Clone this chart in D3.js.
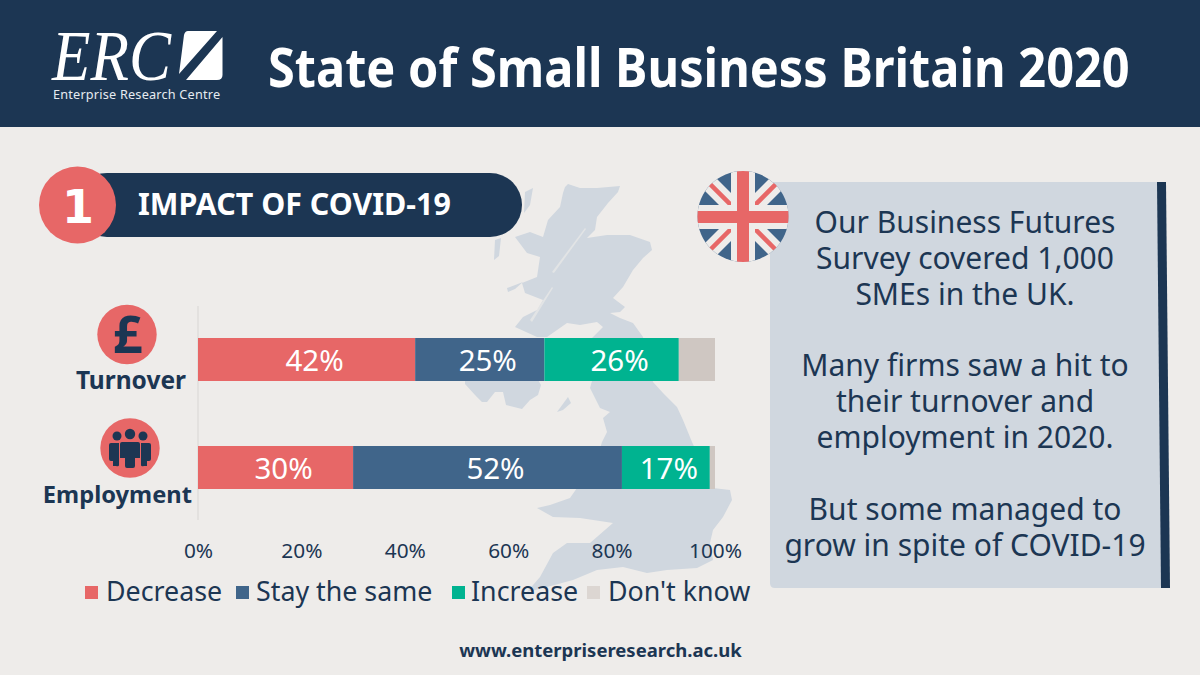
<!DOCTYPE html>
<html><head><meta charset="utf-8">
<script src="https://cdnjs.cloudflare.com/ajax/libs/d3/7.8.5/d3.min.js"></script>
<style>html,body{margin:0;padding:0;background:#eeecea}svg{display:block}text{font-family:"Noto Sans",sans-serif}</style>
</head><body><svg id="c" width="1200" height="675"></svg>
<script>
const categories = ["Turnover", "Employment"];
const seriesNames = ["Decrease", "Stay the same", "Increase", "Don't know"];
const decrease = [42, 30];
const stayTheSame = [25, 52];
const increase = [26, 17];
const dontKnow = [7, 1];
const barLabels = [["42%","25%","26%",""],["30%","52%","17%",""]];
const xTicks = [0, 20, 40, 60, 80, 100];
const panelLines = ["Our Business Futures","Survey covered 1,000","SMEs in the UK.","","Many firms saw a hit to","their turnover and","employment in 2020.","","But some managed to","grow in spite of COVID-19"];

const navy="#1c3653", red="#e76767", blue="#40658a", green="#00b390", taupe="#cfc7c2", bg="#eeecea", pale="#d0d7df";
const colors=[red,blue,green,taupe];
const svg=d3.select("#c");
svg.append("rect").attr("width",1200).attr("height",675).attr("fill",bg);

// squeeze a text horizontally to a target width
function fitWidth(sel,left,baseline,width){
  const w=sel.node().getComputedTextLength();
  sel.attr("transform",`translate(${left},${baseline}) scale(${width/w},1)`);
  return sel;
}

// header
svg.append("rect").attr("width",1200).attr("height",127).attr("fill",navy);
fitWidth(svg.append("text").attr("fill","#fff").attr("font-size",54).attr("font-weight",700).text("State of Small Business Britain 2020"),268,87,862);
fitWidth(svg.append("text").attr("fill","#fff").attr("font-size",71).style("font-family","'Liberation Serif'").attr("font-style","italic").text("ERC"),52,80,119);
svg.append("path").attr("fill","#fff").attr("d","M188 31H217L179 74L184 35Q185 31 188 31Z M222.5 37V75Q222.5 80 217 80H186Z");
svg.append("text").attr("x",53).attr("y",99).attr("fill","#e6ebf0").attr("font-size",12.7).attr("letter-spacing",.2).text("Enterprise Research Centre");

// UK map (decorative background)
const map=svg.append("g").attr("fill",pale);
map.append("path").attr("d","M565 187L568 184L580 188L597 188L620 186L618 192L608 203L597 217L595 230L587 238L607 235L630 235L650 242L652 250L643 258L633 270L623 287L613 298L625 307L620 312L610 313L620 318L633 323L643 337L648 360L653 382L663 393L677 407L683 420L692 442L705 470L713 488L730 490L732 500L723 517L713 530L710 543L713 560L697 568L667 570L647 573L623 567L597 570L573 580L547 587L527 592L540 577L553 553L567 543L590 543L613 523L580 518L553 517L537 508L550 505L570 498L577 488L595 465L602 442L607 432L603 418L610 412L600 408L590 388L592 381L585 360L592 338L603 327L597 322L580 325L567 323L547 337L537 337L515 327L523 317L537 310L543 300L525 293L522 283L537 277L540 257L527 253L515 237L530 232L543 237L548 220L560 207L563 193Z");
map.append("path").attr("d","M465 384L475 395L482 402L487 402L495 392L503 392L506 405L522 409L530 400L538 395L541 385L537 378L465 378Z");
map.append("path").attr("d","M568 397L571 403L563 410L557 412Z");
map.append("path").attr("d","M525 192L533 188L530 205L524 213Z M495 240L501 238L499 256L494 260Z M507 288L523 282L515 289L508 292Z");
map.append("path").attr("fill",bg).attr("opacity",.6).attr("d","M552 272L585 228L586 229L554 273Z M530 320L552 287L553 288L532 322Z");

// pill heading
svg.append("rect").attr("x",75).attr("y",173).attr("width",447).attr("height",64).attr("rx",32).attr("fill",navy);
svg.append("circle").attr("cx",77.5).attr("cy",205).attr("r",38.5).attr("fill",red);
svg.append("text").attr("x",78).attr("y",223).attr("fill","#fff").attr("font-size",46).attr("font-weight",700).attr("text-anchor","middle").style("font-family","'DejaVu Sans'").text("1");
svg.append("text").attr("x",138).attr("y",215).attr("fill","#fff").attr("font-size",30.4).attr("font-weight",700).text("IMPACT OF COVID-19");

// chart
const x=d3.scaleLinear().domain([0,100]).range([198,715]);
const y=d3.scaleBand().domain(categories).range([305.5,521.5]).paddingInner(0.602).paddingOuter(0.301);
svg.append("line").attr("x1",198).attr("x2",198).attr("y1",306).attr("y2",520).attr("stroke","#d8d6d4").attr("stroke-width",1);
const table=categories.map((c,i)=>({cat:c,Decrease:decrease[i],"Stay the same":stayTheSame[i],Increase:increase[i],"Don't know":dontKnow[i]}));
const stack=d3.stack().keys(seriesNames)(table);
stack.forEach((s,si)=>{
  const g=svg.append("g").attr("fill",colors[si]);
  g.selectAll("rect").data(s).enter().append("rect")
    .attr("x",d=>x(d[0])).attr("width",d=>x(d[1])-x(d[0]))
    .attr("y",d=>y(d.data.cat)).attr("height",y.bandwidth());
});
// labels sit slightly right of segment centres, as in the original
stack.forEach((s,si)=>{
  svg.append("g").selectAll("text").data(s).enter().append("text")
    .attr("x",(d,i)=>(x(d[0])+x(d[1]))/2+(barLabels[i][si]==="17%"?3:8)).attr("y",d=>y(d.data.cat)+y.bandwidth()/2+11.5)
    .attr("text-anchor","middle").attr("fill","#fff").attr("font-size",29.5)
    .text((d,i)=>barLabels[i][si]);
});
const axis=d3.axisBottom(x).tickValues(xTicks).tickFormat(d=>d+"%").tickSize(0).tickPadding(0);
const ax=svg.append("g").attr("transform","translate(0,541)").call(axis);
ax.select(".domain").remove();
ax.selectAll("text").attr("fill",navy).attr("font-size",20.8).attr("dy","0.8em").style("font-family","'Noto Sans'");

// category icons + labels
const iconX=[127,130], iconY=[334.5,448], labelX=[186,192], labelY=[389,503], labelSize=[24.5,23.7];
categories.forEach((c,i)=>{
  svg.append("circle").attr("cx",iconX[i]).attr("cy",iconY[i]).attr("r",29.7).attr("fill",red);
  svg.append("text").attr("x",labelX[i]).attr("y",labelY[i]).attr("text-anchor","end").attr("fill",navy).attr("font-size",labelSize[i]).attr("font-weight",700).text(c);
});
svg.append("text").attr("x",127.5).attr("y",353).attr("text-anchor","middle").attr("fill",navy).attr("font-size",52).attr("font-weight",700).text("£");
const p=svg.append("g").attr("fill",navy);
[[117,436,4.5],[130,434,5.2],[143,436,4.5]].forEach(d=>p.append("circle").attr("cx",d[0]).attr("cy",d[1]).attr("r",d[2]));
p.append("path").attr("d","M111 443H119V465Q119 467 116 466H113V461H111Q109 461 109 459V445Q109 443 111 443Z");
p.append("path").attr("d","M149 443H141V465Q141 467 144 466H147V461H149Q151 461 151 459V445Q151 443 149 443Z");
p.append("path").attr("d","M122 442H138Q140 442 140 444V458H135V466Q135 468 133 468H127Q125 468 125 466V458H120V444Q120 442 122 442Z");

// legend
const legX=[85,236,452,587], txtX=[106,256,471,608];
const leg=svg.append("g");
seriesNames.forEach((n,i)=>{
  leg.append("rect").attr("x",legX[i]).attr("y",586).attr("width",13).attr("height",13).attr("fill",i==3?"#dcd6d2":colors[i]);
  leg.append("text").attr("x",txtX[i]).attr("y",601).attr("fill",navy).attr("font-size",26.8).text(n);
});

// panel (right edge leans slightly, as in the original)
svg.append("path").attr("fill",pale).attr("d","M775 182H1160L1164 588H775Q770 588 770 583V187Q770 182 775 182Z");
svg.append("path").attr("fill",navy).attr("d","M1157 182H1166L1170 588H1161Z");
svg.append("g").selectAll("text").data(panelLines).enter().append("text")
  .attr("x",965).attr("y",(d,i)=>233+i*35.85).attr("text-anchor","middle").attr("fill",navy).attr("font-size",30).text(d=>d);

// flag
const defs=svg.append("defs");
defs.append("clipPath").attr("id","fl").append("circle").attr("cx",743).attr("cy",216.5).attr("r",45.5);
const f=svg.append("g").attr("clip-path","url(#fl)");
f.append("rect").attr("x",697).attr("y",171).attr("width",92).attr("height",92).attr("fill",blue);
[[697,171,789,263],[789,171,697,263]].forEach(l=>{
  f.append("line").attr("x1",l[0]).attr("y1",l[1]).attr("x2",l[2]).attr("y2",l[3]).attr("stroke","#eeecea").attr("stroke-width",17);
  f.append("line").attr("x1",l[0]).attr("y1",l[1]).attr("x2",l[2]).attr("y2",l[3]).attr("stroke",red).attr("stroke-width",4.5);
});
f.append("rect").attr("x",731).attr("y",171).attr("width",24).attr("height",92).attr("fill","#eeecea");
f.append("rect").attr("x",697).attr("y",205).attr("width",92).attr("height",24).attr("fill","#eeecea");
f.append("rect").attr("x",737).attr("y",171).attr("width",12).attr("height",92).attr("fill",red);
f.append("rect").attr("x",697).attr("y",211).attr("width",92).attr("height",12).attr("fill",red);

// footer
svg.append("text").attr("x",600.5).attr("y",657).attr("text-anchor","middle").attr("fill",navy).attr("font-size",18.5).attr("font-weight",700).text("www.enterpriseresearch.ac.uk");
</script></body></html>
